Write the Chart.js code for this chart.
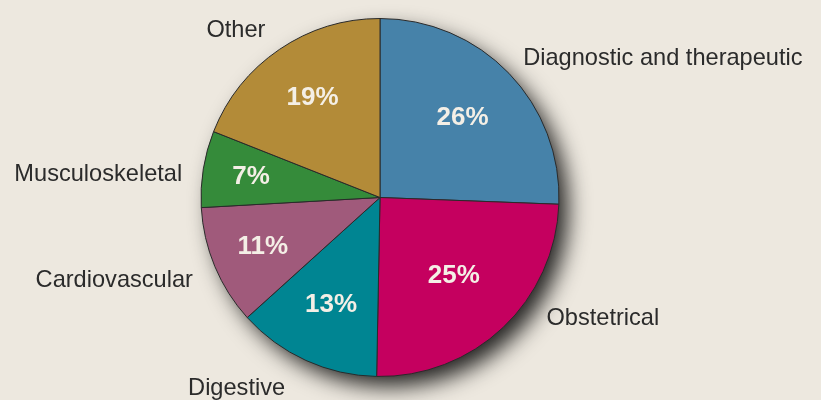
<!DOCTYPE html>
<html>
<head>
<meta charset="utf-8">
<script src="https://cdn.jsdelivr.net/npm/chart.js@4.4.1/dist/chart.umd.min.js"></script>
<style>
  html, body { margin: 0; padding: 0; background: #ede8df; }
  #wrap { width: 821px; height: 400px; position: relative; }
</style>
</head>
<body>
<div id="wrap"><canvas id="pie"></canvas></div>
<script>
// Aineisto (luettu kuvasta)
const categories = ['Diagnostic and therapeutic', 'Obstetrical', 'Digestive', 'Cardiovascular', 'Musculoskeletal', 'Other'];
const shares = [25.6, 24.7, 13.0, 10.8, 6.9, 19.0];
const sliceColors = ['#4682a9', '#c5005f', '#008592', '#a05a7b', '#358b3a', '#b38b38'];

// Tekstien sijainnit suhteessa säteeseen
const innerFactor = [0.64, 0.60, 0.66, 0.71, 0.73, 0.67];
const outerPos = [
    { dx: 0.80, dy: -0.74, align: 'left' },
    { dx: 0.93, dy: 0.715, align: 'left' },
    { dx: -0.53, dy: 1.105, align: 'right' },
    { dx: -1.045, dy: 0.50, align: 'right' },
    { dx: -1.105, dy: -0.09, align: 'right' },
    { dx: -0.64, dy: -0.895, align: 'right' }
];

const shadowPlugin = {
    id: 'pieShadow',
    beforeDatasetsDraw(chart) {
        const arc = chart.getDatasetMeta(0).data[0];
        if (!arc) return;
        const ctx = chart.ctx;
        ctx.save();
        ctx.shadowColor = 'rgba(0,0,0,0.85)';
        ctx.shadowBlur = 22;
        ctx.shadowOffsetX = 10;
        ctx.shadowOffsetY = 11;
        ctx.fillStyle = '#666';
        ctx.beginPath();
        ctx.arc(arc.x, arc.y, arc.outerRadius - 1, 0, Math.PI * 2);
        ctx.fill();
        ctx.restore();
    }
};

const labelPlugin = {
    id: 'pieLabels',
    afterDatasetsDraw(chart) {
        const ctx = chart.ctx;
        const arcs = chart.getDatasetMeta(0).data;
        ctx.save();
        arcs.forEach((arc, i) => {
            const r = arc.outerRadius;
            const mid = (arc.startAngle + arc.endAngle) / 2;
            // prosentit siivun sisällä
            ctx.fillStyle = '#f4efe6';
            ctx.font = 'bold 26px "Liberation Sans", Arial, sans-serif';
            ctx.textAlign = 'center';
            ctx.textBaseline = 'middle';
            const f = innerFactor[i];
            ctx.fillText(Math.round(shares[i]) + '%', arc.x + Math.cos(mid) * r * f, arc.y + Math.sin(mid) * r * f);
            // kategorian nimi ulkopuolella
            const p = outerPos[i];
            ctx.fillStyle = '#2b2b2b';
            ctx.font = '23.6px "Liberation Sans", Arial, sans-serif';
            ctx.textAlign = p.align;
            ctx.textBaseline = 'alphabetic';
            ctx.fillText(categories[i], arc.x + p.dx * r, arc.y + p.dy * r);
        });
        ctx.restore();
    }
};

new Chart(document.getElementById('pie'), {
    type: 'pie',
    data: {
        labels: categories,
        datasets: [{
            data: shares,
            backgroundColor: sliceColors,
            borderColor: '#2a2a2a',
            borderWidth: 1
        }]
    },
    options: {
        responsive: true,
        maintainAspectRatio: false,
        animation: false,
        layout: { padding: { top: 18, bottom: 23, left: 0, right: 61 } },
        plugins: { legend: { display: false }, tooltip: { enabled: false } }
    },
    plugins: [shadowPlugin, labelPlugin]
});
</script>
</body>
</html>
